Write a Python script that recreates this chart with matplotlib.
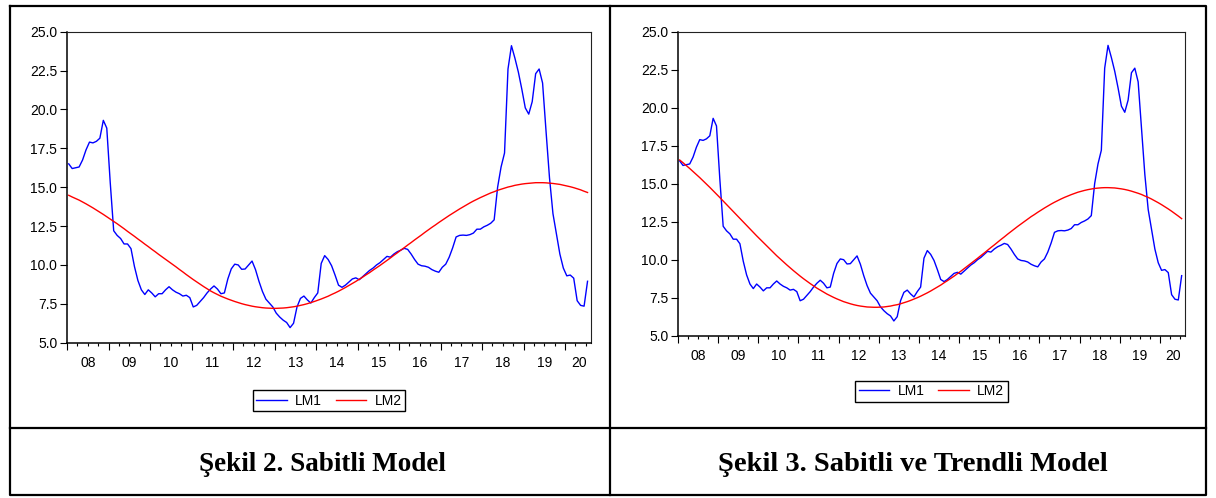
import numpy as np
import matplotlib
matplotlib.use('Agg')
import matplotlib.pyplot as plt
from matplotlib.lines import Line2D
from matplotlib.ticker import FormatStrFormatter

plt.rcParams['font.family'] = ['Liberation Sans', 'DejaVu Sans']

# monthly series, 2008M01 - 2020M07
lm1 = [16.5, 16.2, 16.25, 16.3, 16.75, 17.4, 17.9, 17.85, 17.95, 18.15, 19.3, 18.8,
       15.3, 12.2, 11.9, 11.7, 11.35, 11.35, 11.05, 9.9, 9.0, 8.4, 8.1, 8.4,
       8.2, 7.95, 8.15, 8.15, 8.4, 8.6, 8.4, 8.25, 8.15, 8.0, 8.05, 7.9,
       7.3, 7.4, 7.65, 7.9, 8.2, 8.45, 8.65, 8.45, 8.15, 8.2, 9.1, 9.75,
       10.05, 10.0, 9.72, 9.74, 10.0, 10.25, 9.7, 8.95, 8.3, 7.8, 7.55, 7.3,
       6.9, 6.65, 6.45, 6.3, 5.97, 6.25, 7.3, 7.85, 8.0, 7.75, 7.55, 7.9,
       8.2, 10.1, 10.6, 10.35, 9.95, 9.35, 8.7, 8.56, 8.7, 8.9, 9.1, 9.17,
       9.05, 9.25, 9.45, 9.65, 9.8, 10.0, 10.15, 10.35, 10.55, 10.5, 10.7, 10.85,
       10.95, 11.07, 11.0, 10.7, 10.35, 10.05, 9.95, 9.92, 9.85, 9.7, 9.6, 9.53,
       9.85, 10.05, 10.5, 11.1, 11.8, 11.9, 11.92, 11.9, 11.95, 12.05, 12.3, 12.3,
       12.45, 12.55, 12.68, 12.9, 15.0, 16.3, 17.2, 22.6, 24.1, 23.3, 22.4, 21.3,
       20.1, 19.7, 20.5, 22.3, 22.6, 21.7, 18.6, 15.6, 13.3, 12.0, 10.7, 9.8,
       9.3, 9.35, 9.15, 7.7, 7.4, 7.35, 8.95]

# fitted curve, constant model
lm2_sabit = [14.48, 14.37, 14.27, 14.17, 14.05, 13.93, 13.80, 13.67, 13.53, 13.39, 13.25, 13.10,
             12.95, 12.80, 12.65, 12.49, 12.33, 12.16, 12.00, 11.84, 11.67, 11.51, 11.34, 11.18,
             11.01, 10.85, 10.68, 10.52, 10.36, 10.20, 10.04, 9.88, 9.71, 9.55, 9.38, 9.22,
             9.06, 8.91, 8.76, 8.61, 8.47, 8.33, 8.21, 8.10, 7.99, 7.90, 7.81, 7.73,
             7.65, 7.58, 7.51, 7.45, 7.40, 7.35, 7.31, 7.28, 7.25, 7.23, 7.22, 7.21,
             7.21, 7.22, 7.23, 7.25, 7.28, 7.31, 7.35, 7.40, 7.45, 7.51, 7.58, 7.65,
             7.73, 7.81, 7.90, 7.99, 8.10, 8.20, 8.31, 8.43, 8.55, 8.68, 8.81, 8.94,
             9.08, 9.22, 9.37, 9.51, 9.67, 9.82, 9.97, 10.13, 10.29, 10.45, 10.62, 10.78,
             10.95, 11.11, 11.28, 11.44, 11.61, 11.77, 11.93, 12.10, 12.26, 12.42, 12.57, 12.73,
             12.88, 13.03, 13.18, 13.32, 13.46, 13.60, 13.73, 13.86, 13.99, 14.11, 14.22, 14.33,
             14.43, 14.53, 14.63, 14.71, 14.80, 14.87, 14.94, 15.01, 15.06, 15.12, 15.16, 15.20,
             15.23, 15.25, 15.27, 15.29, 15.29, 15.29, 15.28, 15.26, 15.24, 15.21, 15.18, 15.13,
             15.08, 15.03, 14.97, 14.90, 14.83, 14.74, 14.66]

# fitted curve, constant and trend model
lm2_trend = [16.56, 16.38, 16.19, 16.00, 15.80, 15.60, 15.40, 15.19, 14.97, 14.76, 14.54, 14.32,
             14.09, 13.86, 13.64, 13.41, 13.18, 12.95, 12.72, 12.48, 12.25, 12.03, 11.80, 11.57,
             11.35, 11.12, 10.90, 10.69, 10.47, 10.26, 10.06, 9.86, 9.66, 9.47, 9.28, 9.10,
             8.92, 8.75, 8.59, 8.43, 8.28, 8.13, 8.00, 7.87, 7.74, 7.63, 7.52, 7.42,
             7.33, 7.24, 7.17, 7.10, 7.04, 6.99, 6.95, 6.92, 6.89, 6.88, 6.87, 6.87,
             6.88, 6.89, 6.92, 6.95, 7.00, 7.04, 7.10, 7.17, 7.24, 7.32, 7.41, 7.50,
             7.60, 7.71, 7.82, 7.94, 8.07, 8.20, 8.33, 8.48, 8.62, 8.77, 8.92, 9.08,
             9.24, 9.41, 9.58, 9.75, 9.92, 10.09, 10.27, 10.44, 10.62, 10.80, 10.97, 11.15,
             11.33, 11.50, 11.68, 11.85, 12.02, 12.19, 12.35, 12.51, 12.67, 12.83, 12.97, 13.12,
             13.26, 13.40, 13.53, 13.66, 13.78, 13.89, 14.00, 14.10, 14.19, 14.28, 14.36, 14.44,
             14.50, 14.56, 14.61, 14.65, 14.69, 14.71, 14.73, 14.74, 14.74, 14.73, 14.72, 14.69,
             14.66, 14.62, 14.57, 14.51, 14.44, 14.37, 14.29, 14.19, 14.10, 13.99, 13.87, 13.75,
             13.62, 13.48, 13.34, 13.19, 13.03, 12.87, 12.70]

year_labels = ['08', '09', '10', '11', '12', '13', '14', '15', '16', '17', '18', '19', '20']
titles = ['Şekil 2. Sabitli Model', 'Şekil 3. Sabitli ve Trendli Model']

W, H = 1216, 498
fig = plt.figure(figsize=(W / 100, H / 100), dpi=100)

# table frame around the two figures
bg = fig.add_axes([0, 0, 1, 1])
bg.set_xlim(0, W)
bg.set_ylim(H, 0)
bg.axis('off')
for xs, ys in [([10, 1206, 1206, 10, 10], [6, 6, 495, 495, 6]),
               ([610, 610], [6, 495]),
               ([10, 1206], [428, 428])]:
    bg.add_line(Line2D(xs, ys, color='black', lw=1.6, solid_capstyle='projecting'))
bg.text(322, 464, titles[0], ha='center', va='center', fontsize=19.5,
        fontweight='bold', family='Liberation Serif')
bg.text(913, 464, titles[1], ha='center', va='center', fontsize=20.5,
        fontweight='bold', family='Liberation Serif')


def px_axes(left, top, right, bottom):
    return fig.add_axes([left / W, 1 - bottom / H, (right - left) / W, (bottom - top) / H])


def draw_panel(ax, lm2, legend_y):
    x = np.arange(len(lm1))
    ax.plot(x, lm1, color='#0000ff', lw=1.0, label='LM1')
    ax.plot(x, lm2, color='#ff0000', lw=1.0, label='LM2')
    ax.set_xlim(-0.5, 151)
    ax.set_ylim(5, 25)

    ax.set_yticks(np.arange(5, 25.1, 2.5))
    ax.yaxis.set_major_formatter(FormatStrFormatter('%.1f'))
    ax.tick_params(axis='y', length=4.8, width=0.8, pad=2.2, labelsize=10)

    n_years = len(year_labels)
    ax.set_xticks([12 * k - 0.5 for k in range(n_years)])
    ax.set_xticklabels([])
    ax.set_xticks([3 * k - 0.5 for k in range(51)], minor=True)
    ax.tick_params(axis='x', which='major', length=4.8, width=0.8)
    ax.tick_params(axis='x', which='minor', length=2.3, width=0.8)

    label_pos = [12 * k + 5.5 for k in range(n_years - 1)] + [147.5]
    sec = ax.secondary_xaxis('bottom')
    sec.set_xticks(label_pos, labels=year_labels)
    sec.tick_params(length=0, pad=9.5, labelsize=10)
    sec.spines['bottom'].set_visible(False)

    for side in ['left', 'bottom']:
        ax.spines[side].set_linewidth(1.1)
    for side in ['top', 'right']:
        ax.spines[side].set_linewidth(0.8)
        ax.spines[side].set_color('#222222')

    ax.legend(loc='center', bbox_to_anchor=(0.5, legend_y), ncol=2, fontsize=10,
              frameon=True, fancybox=False, edgecolor='black', framealpha=1,
              handlelength=2.2, handletextpad=0.6, columnspacing=1.0,
              borderpad=0.25, borderaxespad=0)


ax1 = px_axes(67, 31.7, 591, 342.7)
draw_panel(ax1, lm2_sabit, -0.187)
ax2 = px_axes(678, 31.7, 1185, 335.7)
draw_panel(ax2, lm2_trend, -0.182)

fig.savefig('out.png', dpi=100)
